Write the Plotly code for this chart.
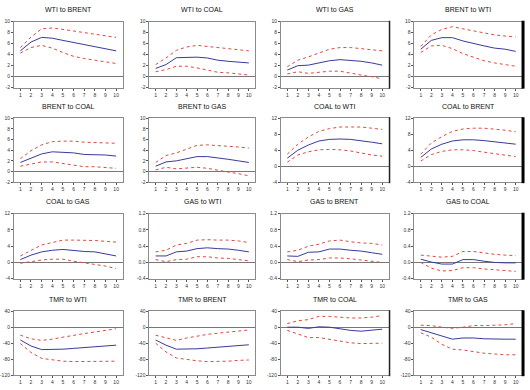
import plotly.graph_objects as go
from plotly.subplots import make_subplots

periods = [1, 2, 3, 4, 5, 6, 7, 8, 9, 10]

titles = ["WTI to BRENT", "WTI to COAL", "WTI to GAS", "BRENT to WTI",
          "BRENT to COAL", "BRENT to GAS", "COAL to WTI", "COAL to BRENT",
          "COAL to GAS", "GAS to WTI", "GAS to BRENT", "GAS to COAL",
          "TMR to WTI", "TMR to BRENT", "TMR to COAL", "TMR to GAS"]

# response, upper band, lower band for each panel
wti_brent = [4.7, 6.3, 7.15, 7.0, 6.6, 6.2, 5.8, 5.5, 5.1, 4.7]
wti_brent_up = [5.3, 7.2, 8.7, 8.85, 8.6, 8.3, 8.0, 7.8, 7.5, 7.15]
wti_brent_lo = [4.3, 5.3, 5.7, 5.2, 4.4, 3.7, 3.3, 3.0, 2.7, 2.4]

wti_coal = [1.5, 2.2, 3.45, 3.5, 3.55, 3.4, 3.0, 2.8, 2.7, 2.5]
wti_coal_up = [2.2, 3.4, 4.8, 5.4, 5.7, 5.5, 5.2, 5.0, 4.9, 4.7]
wti_coal_lo = [0.9, 1.3, 1.9, 1.9, 1.6, 1.2, 0.8, 0.7, 0.5, 0.3]

wti_gas = [1.2, 2.0, 2.1, 2.5, 2.9, 3.1, 3.0, 2.8, 2.5, 2.1]
wti_gas_up = [1.8, 3.0, 3.6, 4.3, 5.0, 5.3, 5.3, 5.1, 4.9, 4.7]
wti_gas_lo = [0.5, 0.9, 0.6, 0.8, 1.0, 1.0, 0.6, 0.3, 0.0, -0.4]

brent_wti = [5.0, 6.6, 7.1, 7.1, 6.5, 6.0, 5.6, 5.2, 5.0, 4.6]
brent_wti_up = [5.5, 7.6, 8.6, 9.1, 8.7, 8.3, 7.9, 7.6, 7.4, 7.2]
brent_wti_lo = [4.4, 5.6, 5.7, 5.1, 4.2, 3.5, 2.9, 2.5, 2.2, 1.9]

brent_coal = [1.7, 2.5, 3.3, 3.7, 3.6, 3.5, 3.2, 3.2, 3.1, 2.9]
brent_coal_up = [2.4, 3.9, 5.0, 5.6, 5.7, 5.7, 5.5, 5.4, 5.4, 5.3]
brent_coal_lo = [1.0, 1.4, 1.8, 1.8, 1.5, 1.2, 0.9, 0.9, 0.7, 0.6]

brent_gas = [1.0, 1.8, 2.0, 2.4, 2.8, 2.8, 2.6, 2.3, 2.0, 1.7]
brent_gas_up = [1.7, 3.0, 3.5, 4.2, 4.9, 5.0, 4.9, 4.7, 4.6, 4.4]
brent_gas_lo = [0.3, 0.8, 0.5, 0.7, 0.8, 0.6, 0.2, -0.1, -0.4, -0.8]

coal_wti = [2.0, 4.0, 5.3, 6.3, 6.7, 6.8, 6.7, 6.4, 6.0, 5.6]
coal_wti_up = [3.0, 5.5, 7.3, 8.7, 9.4, 9.8, 9.8, 9.8, 9.5, 9.2]
coal_wti_lo = [1.0, 2.8, 3.6, 4.1, 4.2, 4.1, 3.8, 3.3, 2.8, 2.5]

coal_brent = [2.2, 4.3, 5.5, 6.3, 6.6, 6.6, 6.4, 6.1, 5.8, 5.5]
coal_brent_up = [3.0, 5.8, 7.4, 8.7, 9.3, 9.5, 9.5, 9.3, 9.0, 8.6]
coal_brent_lo = [1.3, 2.9, 3.7, 4.1, 4.1, 3.9, 3.5, 3.1, 2.8, 2.4]

coal_gas = [0.7, 1.8, 2.6, 3.0, 3.2, 2.9, 2.7, 2.6, 2.1, 1.6]
coal_gas_up = [1.6, 3.0, 4.3, 4.9, 5.5, 5.5, 5.5, 5.4, 5.2, 5.0]
coal_gas_lo = [-0.2, 0.2, 0.6, 0.8, 0.8, 0.3, -0.1, -0.5, -0.9, -1.5]

gas_wti = [0.16, 0.16, 0.26, 0.28, 0.34, 0.36, 0.34, 0.33, 0.30, 0.26]
gas_wti_up = [0.26, 0.30, 0.43, 0.47, 0.55, 0.56, 0.55, 0.55, 0.53, 0.49]
gas_wti_lo = [0.07, 0.02, 0.07, 0.08, 0.14, 0.14, 0.11, 0.10, 0.07, 0.04]

gas_brent = [0.16, 0.15, 0.25, 0.26, 0.33, 0.33, 0.30, 0.28, 0.24, 0.20]
gas_brent_up = [0.26, 0.30, 0.40, 0.45, 0.53, 0.55, 0.51, 0.48, 0.47, 0.43]
gas_brent_lo = [0.07, 0.02, 0.06, 0.07, 0.11, 0.11, 0.09, 0.06, 0.02, 0.0]

gas_coal = [0.08, 0.01, -0.04, -0.04, 0.07, 0.07, 0.03, 0.0, -0.01, -0.01]
gas_coal_up = [0.18, 0.15, 0.13, 0.15, 0.27, 0.27, 0.23, 0.20, 0.18, 0.17]
gas_coal_lo = [0.0, -0.14, -0.21, -0.20, -0.13, -0.13, -0.16, -0.18, -0.20, -0.22]

tmr_wti = [-32, -47, -56, -56, -55, -53, -51, -48, -47, -45]
tmr_wti_up = [-20, -29, -33, -30, -25, -20, -16, -12, -8, -4]
tmr_wti_lo = [-41, -63, -78, -82, -85, -86, -86, -85, -85, -85]

tmr_brent = [-32, -45, -55, -55, -54, -52, -50, -48, -46, -44]
tmr_brent_up = [-20, -27, -33, -27, -22, -18, -15, -12, -9, -7]
tmr_brent_lo = [-40, -62, -77, -81, -84, -86, -86, -85, -83, -82]

tmr_coal = [0, 0, -3, 1, 0, -4, -8, -10, -7, -5]
tmr_coal_up = [9, 16, 19, 27, 27, 25, 23, 23, 25, 29]
tmr_coal_lo = [-8, -18, -26, -26, -30, -34, -39, -41, -40, -40]

tmr_gas = [-6, -14, -22, -30, -27, -27, -29, -30, -30, -30]
tmr_gas_up = [5, 4, 0, -3, 0, 4, 4, 5, 6, 9]
tmr_gas_lo = [-14, -25, -43, -55, -57, -61, -65, -67, -69, -69]

responses = [wti_brent, wti_coal, wti_gas, brent_wti, brent_coal, brent_gas,
             coal_wti, coal_brent, coal_gas, gas_wti, gas_brent, gas_coal,
             tmr_wti, tmr_brent, tmr_coal, tmr_gas]
uppers = [wti_brent_up, wti_coal_up, wti_gas_up, brent_wti_up, brent_coal_up,
          brent_gas_up, coal_wti_up, coal_brent_up, coal_gas_up, gas_wti_up,
          gas_brent_up, gas_coal_up, tmr_wti_up, tmr_brent_up, tmr_coal_up,
          tmr_gas_up]
lowers = [wti_brent_lo, wti_coal_lo, wti_gas_lo, brent_wti_lo, brent_coal_lo,
          brent_gas_lo, coal_wti_lo, coal_brent_lo, coal_gas_lo, gas_wti_lo,
          gas_brent_lo, gas_coal_lo, tmr_wti_lo, tmr_brent_lo, tmr_coal_lo,
          tmr_gas_lo]

# y-axis scale per panel: (min, max, step, tick labels)
scale_a = (-2, 10, 2, ["-2", "0", "2", "4", "6", "8", "10"])
scale_b = (-4, 12, 4, ["-4", "0", "4", "8", "12"])
scale_c = (-0.4, 1.2, 0.4, ["-0.4", "0.0", "0.4", "0.8", "1.2"])
scale_d = (-120, 40, 40, ["-120", "-80", "-40", "0", "40"])
scales = [scale_a, scale_a, scale_a, scale_a,
          scale_a, scale_a, scale_b, scale_b,
          scale_b, scale_c, scale_c, scale_c,
          scale_d, scale_d, scale_d, scale_d]

W, H = 530, 390
col_px = [(12, 121), (148, 254), (280, 388), (414, 522)]
row_px = [(19, 86), (117, 182), (214, 280), (313, 378)]

fig = make_subplots(rows=4, cols=4)

BLUE = "#3a3a9c"
RED = "#e0483c"
FRAME = "#8a8a8a"

annotations = []
shapes = []
for i in range(16):
    r, c = divmod(i, 4)
    x0, x1 = col_px[c]
    y0, y1 = row_px[r]
    ax = "" if i == 0 else str(i + 1)
    fig.layout["xaxis" + ax].domain = [x0 / W, x1 / W]
    fig.layout["yaxis" + ax].domain = [1 - y1 / H, 1 - y0 / H]

    fig.add_trace(go.Scatter(x=periods, y=uppers[i], mode="lines",
                             line=dict(color=RED, width=1, dash="dot")),
                  row=r + 1, col=c + 1)
    fig.add_trace(go.Scatter(x=periods, y=lowers[i], mode="lines",
                             line=dict(color=RED, width=1, dash="dot")),
                  row=r + 1, col=c + 1)
    fig.add_trace(go.Scatter(x=periods, y=responses[i], mode="lines",
                             line=dict(color=BLUE, width=1)),
                  row=r + 1, col=c + 1)

    lo, hi, step, labs = scales[i]
    n = len(labs)
    tv = [lo + k * step for k in range(n)]
    fig.update_xaxes(range=[0.4, 10.6], tickvals=periods,
                     ticktext=[str(p) for p in periods],
                     showgrid=False, zeroline=False, showline=True,
                     linecolor=FRAME, linewidth=1, mirror=True,
                     ticks="outside", ticklen=2, tickcolor="#555",
                     tickfont=dict(size=5, color="#333"),
                     row=r + 1, col=c + 1)
    fig.update_yaxes(range=[lo, hi], tickvals=tv, ticktext=labs,
                     showgrid=False, zeroline=True, zerolinecolor="#777",
                     zerolinewidth=1, showline=True,
                     linecolor=FRAME, linewidth=1, mirror=True,
                     ticks="outside", ticklen=2, tickcolor="#555",
                     tickfont=dict(size=5, color="#333"),
                     row=r + 1, col=c + 1)

    annotations.append(dict(text=titles[i], x=(x0 + x1) / 2 / W,
                            y=1 - (y0 - 12) / H, xref="paper", yref="paper",
                            showarrow=False, xanchor="center", yanchor="middle",
                            font=dict(size=7, color="#111",
                                      family="Liberation Sans, Arial")))

    # dark right border artefacts of the source image
    if c == 3:
        shapes.append(dict(type="line", xref="paper", yref="paper",
                           x0=(x1 + 1) / W, x1=(x1 + 1) / W,
                           y0=1 - (y1 + 1) / H, y1=1 - (y0 - 1) / H,
                           line=dict(color="#000", width=3)))
    elif c == 2 and r in (0, 1, 3):
        shapes.append(dict(type="line", xref="paper", yref="paper",
                           x0=(x1 + 1) / W, x1=(x1 + 1) / W,
                           y0=1 - (y1 + 1) / H, y1=1 - (y0 - 1) / H,
                           line=dict(color="#222", width=1.5)))

fig.update_layout(width=W, height=H, margin=dict(l=0, r=0, t=0, b=0),
                  paper_bgcolor="white", plot_bgcolor="white",
                  showlegend=False, annotations=annotations, shapes=shapes,
                  font=dict(family="Liberation Sans, Arial"))

fig.write_html("out.html", config={"displayModeBar": False},
               post_script="document.body.style.margin='0';"
                           "document.body.style.overflow='hidden';")
